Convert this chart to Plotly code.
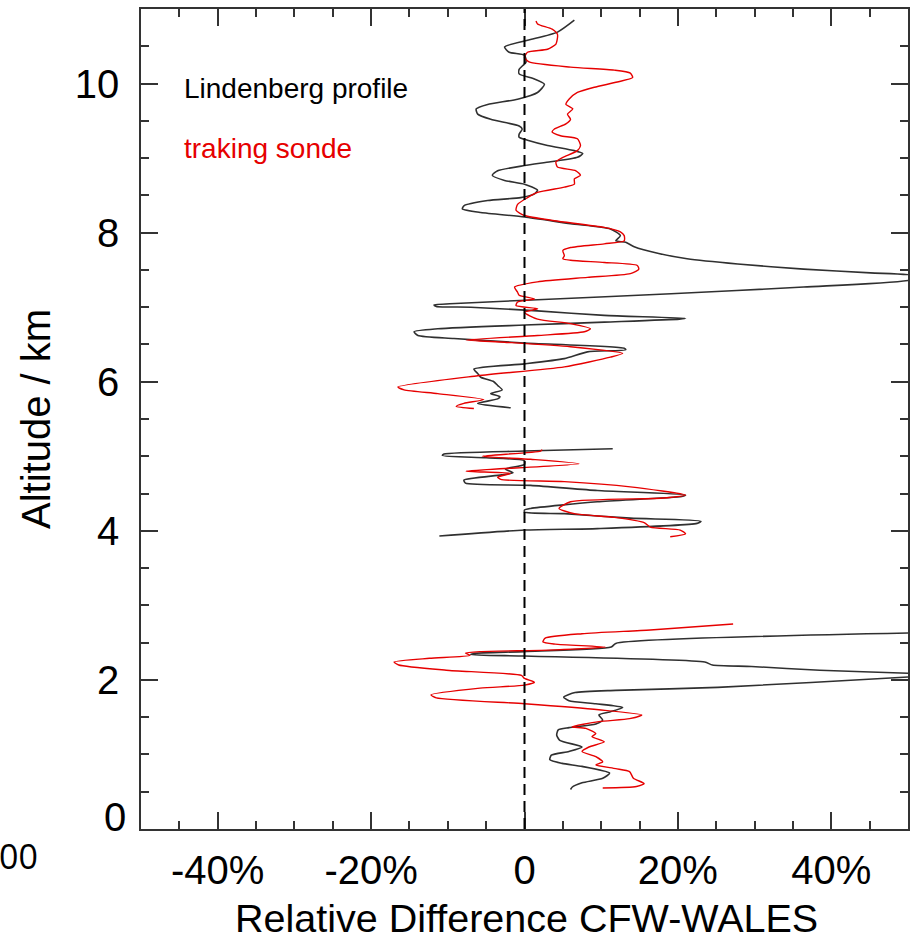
import plotly.graph_objects as go

# ---------------- data (relative difference in %, altitude in km) ----------------
# Lindenberg profile (black) -- three separate altitude segments
lind_top_diff = [6.5, 4.3, 0.4, -2.6, -2.0, 0.0, 0.2, -0.7, -0.7, 1.3, 2.6, 1.7, -0.9, -4.8, -6.3, -6.1, -4.4,
                 -0.7, -0.3, -0.7, -0.7, 0.4, 3.0, 6.5, 7.6, 6.9, 3.4, 0.0, -3.5, -4.2, -2.6, 0.0, 1.7, 1.3,
                 -0.5, -4.8, -7.9, -8.1, -5.7, 0.0, 6.0, 11.2, 12.5, 11.9, 13.2, 14.3, 17.5, 21.2, 27.8, 36.4,
                 45.1, 51.0, 50.5, 36.4, 19.1, 1.7, -9.0, -11.8, -11.5, -7.0, 1.7, 10.4, 21.0, 20.2, 10.4, 0.0,
                 -11.3, -14.4, -13.9, -9.2, 0.0, 13.0, 13.2, 8.2, 5.2, 0.0, -6.6, -6.1, -5.7, -4.0, -3.5, -2.9,
                 -4.4, -3.2, -3.5, -6.1, -1.8]
lind_top_alt = [10.85, 10.69, 10.58, 10.49, 10.42, 10.38, 10.29, 10.19, 10.13, 10.06, 9.99, 9.88, 9.79, 9.72,
                9.66, 9.59, 9.52, 9.43, 9.39, 9.32, 9.28, 9.24, 9.17, 9.10, 9.06, 9.01, 8.95, 8.90, 8.83, 8.77,
                8.70, 8.65, 8.57, 8.52, 8.47, 8.43, 8.36, 8.32, 8.27, 8.21, 8.12, 8.05, 7.96, 7.89, 7.87, 7.81,
                7.72, 7.65, 7.58, 7.51, 7.46, 7.42, 7.37, 7.27, 7.18, 7.10, 7.05, 7.03, 7.01, 7.00, 6.95, 6.89,
                6.85, 6.84, 6.80, 6.76, 6.71, 6.67, 6.62, 6.58, 6.52, 6.45, 6.43, 6.40, 6.31, 6.24, 6.17, 6.11,
                6.06, 6.00, 5.95, 5.89, 5.84, 5.80, 5.77, 5.71, 5.65]

lind_mid_diff = [11.5, 0.0, -10.5, -10.7, -5.0, 0.0, 0.0, -2.5, -1.5, -3.0, -7.9, -7.7, 0.8, 9.5, 21.0, 20.5,
                 9.5, 0.8, 0.0, 0.0, 5.2, 13.8, 23.0, 22.5, 9.5, 0.0, -11.1]
lind_mid_alt = [5.10, 5.07, 5.03, 5.01, 4.98, 4.94, 4.89, 4.83, 4.78, 4.75, 4.68, 4.64, 4.61, 4.54, 4.48, 4.46,
                4.39, 4.30, 4.28, 4.25, 4.23, 4.17, 4.13, 4.10, 4.03, 4.01, 3.93]

lind_low_diff = [56.0, 11.9, 11.3, 0.0, -6.6, -7.0, 0.0, 23.5, 24.5, 29.6, 38.5, 50.0, 54.0, 50.0, 25.2, 11.9,
                 6.6, 5.1, 5.8, 9.3, 12.8, 11.1, 9.7, 10.2, 9.3, 5.8, 4.4, 4.2, 4.6, 7.5, 5.8, 3.5, 3.3, 4.9,
                 7.5, 11.1, 10.2, 7.5, 6.2, 6.0]
lind_low_alt = [2.64, 2.49, 2.44, 2.38, 2.355, 2.34, 2.32, 2.24, 2.20, 2.18, 2.13, 2.09, 2.07, 2.04, 1.90, 1.86,
                1.83, 1.77, 1.72, 1.68, 1.63, 1.57, 1.53, 1.46, 1.41, 1.36, 1.33, 1.26, 1.19, 1.10, 1.04, 0.99,
                0.93, 0.88, 0.84, 0.75, 0.68, 0.62, 0.56, 0.53]

# tracking sonde (red)
sonde_top_diff = [1.5, 1.7, 3.6, 4.3, 4.1, 3.0, 0.4, 0.0, 0.6, 6.0, 11.7, 13.8, 14.1, 12.1, 9.1, 6.9, 5.8, 5.4,
                  6.3, 5.6, 6.0, 5.4, 3.9, 3.6, 4.7, 6.9, 7.3, 6.9, 5.0, 4.1, 4.3, 6.7, 7.3, 6.5, 6.5, 5.2, 1.7,
                  0.4, -0.9, -1.1, 0.0, 3.9, 10.4, 12.5, 13.0, 13.0, 10.4, 6.0, 5.0, 5.2, 5.0, 6.0, 10.4, 14.7,
                  14.9, 13.8, 8.2, 1.7, -1.3, -0.9, -0.7, 1.3, -0.9, -1.1, 1.7, 0.0, 1.7, 6.0, 8.6, 7.8, 1.7,
                  -7.6, -2.6, 6.0, 12.8, 11.2, 5.2, -6.1, -16.5, -15.7, -11.3, -5.3, -7.9, -8.9, -6.6]
sonde_top_alt = [10.84, 10.80, 10.73, 10.66, 10.53, 10.46, 10.42, 10.35, 10.29, 10.22, 10.18, 10.14, 10.08,
                 10.02, 9.95, 9.88, 9.79, 9.72, 9.66, 9.59, 9.52, 9.46, 9.39, 9.35, 9.30, 9.26, 9.17, 9.10, 9.01,
                 8.95, 8.88, 8.83, 8.77, 8.72, 8.65, 8.61, 8.54, 8.47, 8.38, 8.30, 8.23, 8.16, 8.07, 8.01, 7.96,
                 7.89, 7.85, 7.80, 7.76, 7.69, 7.65, 7.63, 7.60, 7.56, 7.51, 7.45, 7.40, 7.34, 7.27, 7.20, 7.16,
                 7.11, 7.07, 7.02, 6.98, 6.93, 6.84, 6.78, 6.71, 6.67, 6.62, 6.56, 6.53, 6.47, 6.38, 6.33, 6.20,
                 6.08, 5.93, 5.89, 5.84, 5.76, 5.71, 5.67, 5.64]

sonde_mid_diff = [2.3, 2.1, -5.5, 0.8, 7.1, -7.6, -1.8, -3.5, -3.1, 5.2, 13.8, 21.0, 18.2, 6.0, 4.5, 6.5, 11.7,
                  15.6, 16.4, 20.3, 21.0, 19.0]
sonde_mid_alt = [5.09, 5.07, 5.00, 4.96, 4.90, 4.80, 4.77, 4.72, 4.69, 4.66, 4.59, 4.48, 4.44, 4.39, 4.30, 4.23,
                 4.18, 4.11, 4.05, 4.01, 3.96, 3.92]

sonde_low_diff = [27.2, 16.4, 7.5, 2.7, 2.4, 4.0, 10.6, 3.1, -5.8, -7.7, -7.1, -12.4, -17.0, -16.4, -10.2, -0.4,
                  0.0, 1.3, 0.0, -5.8, -12.2, -11.5, 0.0, 9.7, 15.3, 13.7, 9.7, 6.2, 8.0, 9.3, 8.8, 10.4, 8.4,
                  7.5, 9.3, 10.2, 9.3, 11.9, 13.7, 14.2, 15.6, 14.6, 10.2]
sonde_low_alt = [2.75, 2.67, 2.62, 2.56, 2.51, 2.48, 2.44, 2.40, 2.38, 2.36, 2.33, 2.29, 2.24, 2.20, 2.13, 2.06,
                 2.02, 1.97, 1.93, 1.89, 1.80, 1.76, 1.68, 1.60, 1.53, 1.48, 1.44, 1.37, 1.35, 1.28, 1.24, 1.17,
                 1.10, 1.04, 0.97, 0.90, 0.86, 0.81, 0.77, 0.68, 0.61, 0.57, 0.55]

x_tickvals = [-40, -20, 0, 20, 40]
x_ticktext = ["-40%", "-20%", "0", "20%", "40%"]
y_tickvals = [0, 2, 4, 6, 8, 10]
y_ticktext = ["", "2", "4", "6", "8", "10"]

series_names = ["Lindenberg profile", "traking sonde"]
x_title = "Relative Difference CFW-WALES"
y_title = "Altitude / km"


def join(*segs):
    out = []
    for i, s in enumerate(segs):
        if i:
            out.append(None)
        out.extend(s)
    return out


FONT = "Liberation Sans, Arial, Helvetica, sans-serif"
AX = "#333333"

fig = go.Figure()
fig.add_trace(go.Scatter(
    x=join(lind_top_diff, lind_mid_diff, lind_low_diff),
    y=join(lind_top_alt, lind_mid_alt, lind_low_alt),
    mode="lines", line=dict(color="#303030", width=1.6, shape="spline", smoothing=0.6),
    connectgaps=False, name=series_names[0], showlegend=False))
fig.add_trace(go.Scatter(
    x=join(sonde_top_diff, sonde_mid_diff, sonde_low_diff),
    y=join(sonde_top_alt, sonde_mid_alt, sonde_low_alt),
    mode="lines", line=dict(color="#e60000", width=1.4, shape="spline", smoothing=0.6),
    connectgaps=False, name=series_names[1], showlegend=False))

fig.add_shape(type="line", x0=0, x1=0, y0=0, y1=11, xref="x", yref="y",
              line=dict(color="black", width=2, dash="11px,6px"), layer="above")

axis_common = dict(showgrid=False, zeroline=False, showline=True, linecolor=AX, linewidth=1.5,
                   mirror="ticks", ticks="inside", tickcolor=AX, tickwidth=1.5, ticklen=17,
                   tickfont=dict(family=FONT, size=40, color="black"))

fig.update_xaxes(range=[-50, 50], tickmode="array", tickvals=x_tickvals, ticktext=x_ticktext,
                 minor=dict(dtick=5, tick0=0, ticks="inside", ticklen=8, tickcolor=AX, tickwidth=1.5),
                 ticklabelstandoff=5, **axis_common)
fig.update_yaxes(range=[0, 11], tickmode="array", tickvals=y_tickvals, ticktext=y_ticktext,
                 minor=dict(dtick=0.5, tick0=0, ticks="inside", ticklen=8, tickcolor=AX, tickwidth=1.5),
                 title=dict(text=y_title, font=dict(family=FONT, size=40, color="black"), standoff=12),
                 ticklabelstandoff=12, **axis_common)

annotations = [
    dict(x=0.5, y=-0.1085, xref="paper", yref="paper", text=x_title, showarrow=False, xanchor="center",
         yanchor="middle", xshift=2, font=dict(family=FONT, size=39.5, color="black")),
    dict(x=-44.6, y=9.93, xref="x", yref="y", text=series_names[0], showarrow=False, xanchor="left",
         yanchor="middle", font=dict(family=FONT, size=28, color="black")),
    dict(x=-44.6, y=9.13, xref="x", yref="y", text=series_names[1], showarrow=False, xanchor="left",
         yanchor="middle", font=dict(family=FONT, size=28, color="#e60000")),
    dict(x=0, y=0, xref="paper", yref="y", text="0", showarrow=False, xanchor="right", yanchor="middle",
         xshift=-13, yshift=12, font=dict(family=FONT, size=40, color="black")),
    dict(x=-0.1834, y=-0.0335, xref="paper", yref="paper", text="00", showarrow=False, xanchor="left",
         yanchor="middle", xshift=-3, font=dict(family="Open Sans, sans-serif", size=34, color="black")),
]
fig.update_layout(width=913, height=940, margin=dict(l=141, r=3, t=9, b=111),
                  paper_bgcolor="white", plot_bgcolor="white", annotations=annotations,
                  showlegend=False)

fig.write_html("out.html")
